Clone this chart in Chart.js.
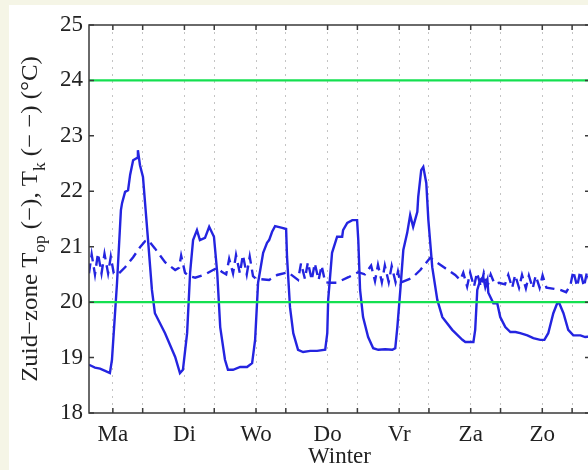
<!DOCTYPE html>
<html>
<head>
<meta charset="utf-8">
<title>Zuid-zone winter</title>
<script src="https://cdn.jsdelivr.net/npm/chart.js@4.4.1/dist/chart.umd.min.js"></script>
<style>
  html, body { margin: 0; padding: 0; overflow: hidden; background: #fff; }
  #wrap { width: 588px; height: 470px; overflow: hidden; position: relative; }
  #chart { position: absolute; left: 0; top: 0; }
</style>
</head>
<body>
<div id="wrap"><canvas id="chart" width="600" height="470"></canvas></div>
<script>
// x axis in hours from Monday 00:00, one week
const dayLabels = ['Ma', 'Di', 'Wo', 'Do', 'Vr', 'Za', 'Zo'];
const dayTickHours = [8, 32, 56, 80, 104, 128, 152];
const gridHours = [8, 18, 32, 42, 56, 66, 80, 90, 104, 114, 128, 138, 152, 162];
const yTicks = [18, 19, 20, 21, 22, 23, 24, 25];

// comfort band limits (green lines)
const weekHours = [0, 168];
const comfortHigh = 24;
const comfortLow = 20;

// operative temperature T_op (solid)
const topHours = [0, 2.0, 3.7, 5.4, 7.0, 7.7, 9.4, 10.7, 11.1, 12.1,
  13.1, 13.8, 14.8, 16.1, 16.4, 17.1, 18.1, 19.8, 21.1, 22.1,
  25.5, 28.9, 30.5, 31.5, 32.9, 33.9, 34.9, 36.2, 37.2, 38.9,
  40.3, 41.9, 43.0, 44.0, 45.6, 46.6, 48.3, 50.7, 53.0, 54.7,
  55.7, 56.7, 58.4, 59.7, 60.4, 61.4, 62.4, 64.8, 66.1, 66.4,
  67.4, 68.5, 70.1, 71.8, 74.2, 76.5, 79.2, 79.9, 80.2, 81.5,
  83.2, 84.9, 85.2, 86.6, 88.3, 89.9, 90.3, 90.9, 91.9, 93.6,
  95.3, 97.0, 99.3, 101.7, 102.7, 103.4, 104.4, 105.4, 106.7, 107.7,
  108.7, 110.1, 110.4, 111.4, 112.1, 113.1, 113.8, 115.1, 116.8, 118.5,
  121.8, 125.2, 126.2, 128.9, 129.5, 130.2, 131.2, 132.2, 132.9, 133.6,
  133.9, 135.6, 136.9, 137.9, 139.6, 141.3, 143.0, 144.6, 147.0, 149.0,
  151.3, 152.7, 154.0, 155.7, 157.0, 157.7, 159.1, 160.7, 162.4, 164.8,
  166.4, 168];
const topValues = [18.87, 18.82, 18.80, 18.76, 18.72, 18.96, 20.35, 21.66, 21.79, 21.99,
  22.02, 22.30, 22.56, 22.60, 22.74, 22.47, 22.26, 21.12, 20.22, 19.80,
  19.44, 19.01, 18.72, 18.78, 19.44, 20.53, 21.12, 21.30, 21.12, 21.16,
  21.36, 21.18, 20.53, 19.55, 18.96, 18.78, 18.78, 18.83, 18.83, 18.90,
  19.32, 20.35, 20.89, 21.07, 21.12, 21.27, 21.37, 21.34, 21.32, 20.82,
  19.91, 19.44, 19.14, 19.10, 19.12, 19.12, 19.14, 19.44, 20.04, 20.89,
  21.18, 21.18, 21.30, 21.43, 21.48, 21.48, 21.12, 20.22, 19.73, 19.37,
  19.17, 19.14, 19.15, 19.14, 19.17, 19.55, 20.22, 20.94, 21.25, 21.57,
  21.36, 21.63, 21.90, 22.38, 22.44, 22.15, 21.48, 20.63, 20.04, 19.73,
  19.50, 19.32, 19.28, 19.28, 19.50, 20.22, 20.40, 20.45, 20.27, 20.40,
  20.17, 19.98, 19.98, 19.73, 19.55, 19.46, 19.46, 19.44, 19.40, 19.35,
  19.32, 19.32, 19.44, 19.80, 19.98, 19.98, 19.80, 19.50, 19.40, 19.40,
  19.37, 19.38];

// T_k (dashed)
const tkHours = [0, 0.9, 2.0, 3.0, 4.2, 5.2, 6.4, 7.3, 8.3,
  9.7, 12.1, 14.8, 17.1, 18.8, 19.8, 22.1, 25.5, 28.9, 30.2, 30.9, 32.2, 33.5, 35.6, 38.9, 41.6, 43.0, 44.5,
  46.0, 47.0, 48.3, 49.3, 50.6, 51.6, 52.9, 53.9, 55.0,
  56.0, 60.4, 63.1, 66.7,
  70.1, 71.1, 72.4, 73.4, 74.7, 75.7, 77.0, 78.0, 79.2,
  80.5, 83.0, 87.0, 90.3, 92.5,
  94.6, 95.9, 96.9, 98.2, 99.2, 100.5, 101.5, 102.8, 103.6, 104.4,
  108.4, 111.1, 114.4, 119.5, 122.8,
  124.5, 125.5, 126.8, 127.8, 129.1, 130.1, 131.4, 132.4, 133.7, 134.7, 136.0,
  137.5, 139.5,
  140.6, 141.9, 142.9, 144.2, 145.2, 146.5, 147.5, 148.8, 149.8, 151.1, 152.1, 153.4,
  156.0, 158.0, 160.0,
  161.4, 162.4, 163.7, 164.7, 166.0, 167.0, 168.0];
const tkValues = [20.52, 20.86, 20.50, 20.88, 20.52, 20.87, 20.52, 20.82, 20.52,
  20.50, 20.63, 20.81, 20.99, 21.10, 21.12, 20.97, 20.72, 20.58, 20.62, 20.84, 20.53, 20.47, 20.44, 20.50, 20.58, 20.62, 20.55,
  20.50, 20.78, 20.52, 20.85, 20.52, 20.85, 20.50, 20.82, 20.47,
  20.42, 20.40, 20.49, 20.54,
  20.40, 20.70, 20.42, 20.72, 20.40, 20.70, 20.40, 20.66, 20.36,
  20.35, 20.35, 20.45, 20.54, 20.50,
  20.66, 20.38, 20.67, 20.36, 20.66, 20.36, 20.65, 20.36, 20.55, 20.35,
  20.44, 20.58, 20.80, 20.61, 20.49,
  20.40, 20.53, 20.28, 20.53, 20.28, 20.53, 20.28, 20.53, 20.30, 20.50, 20.33,
  20.35, 20.32,
  20.49, 20.26, 20.49, 20.26, 20.49, 20.25, 20.48, 20.25, 20.48, 20.26, 20.48, 20.26,
  20.24, 20.22, 20.18,
  20.30, 20.56, 20.28, 20.56, 20.28, 20.55, 20.35];

const blue = '#2424e0';
const green = '#14e050';
const textColor = '#222222';
const serif = '"Liberation Serif", "Times New Roman", serif';

function toPoints(xs, ys) {
  return xs.map((h, i) => ({ x: h, y: ys[i] }));
}

const backgroundPlugin = {
  id: 'paper',
  beforeDraw(chart) {
    const ctx = chart.ctx;
    ctx.save();
    ctx.fillStyle = '#f5f5e6';
    ctx.fillRect(0, 0, chart.width, chart.height);
    ctx.fillStyle = '#ffffff';
    ctx.fillRect(9, 5, chart.width, chart.height);
    ctx.restore();
  }
};

// box around the axes plus inward tick marks (matlab style)
const framePlugin = {
  id: 'frame',
  afterDatasetsDraw(chart) {
    const { ctx, chartArea: a, scales } = chart;
    ctx.save();
    ctx.strokeStyle = '#3a3a3a';
    ctx.lineWidth = 1.5;
    ctx.strokeRect(a.left, a.top, a.right - a.left, a.bottom - a.top);
    ctx.beginPath();
    yTicks.forEach(v => {
      const py = scales.y.getPixelForValue(v);
      ctx.moveTo(a.left, py); ctx.lineTo(a.left + 5, py);
      ctx.moveTo(a.right, py); ctx.lineTo(a.right - 5, py);
    });
    gridHours.forEach(h => {
      const px = scales.x.getPixelForValue(h);
      ctx.moveTo(px, a.top); ctx.lineTo(px, a.top + 5);
      ctx.moveTo(px, a.bottom); ctx.lineTo(px, a.bottom - 5);
    });
    ctx.stroke();
    ctx.restore();
  }
};

// axis titles, the y one needs subscripts
const titlesPlugin = {
  id: 'titles',
  afterDraw(chart) {
    const { ctx, chartArea: a } = chart;
    ctx.save();
    ctx.fillStyle = textColor;
    ctx.font = '23px ' + serif;
    ctx.textAlign = 'center';
    ctx.textBaseline = 'alphabetic';
    ctx.fillText('Winter', (a.left + a.right) / 2, 463);

    const parts = [
      ['Zuid\u2212zone T', false],
      ['op', true],
      [' (\u2212), T', false],
      ['k', true],
      [' (\u2212 \u2212) (\u00B0C)', false]
    ];
    const mainFont = '23px ' + serif;
    const subFont = '16px ' + serif;
    let total = 0;
    parts.forEach(([t, sub]) => {
      ctx.font = sub ? subFont : mainFont;
      total += ctx.measureText(t).width;
    });
    const stretch = 1.08;
    ctx.translate(37, (a.top + a.bottom) / 2);
    ctx.rotate(-Math.PI / 2);
    ctx.scale(stretch, 1);
    ctx.textAlign = 'left';
    let cx = -total / 2;
    parts.forEach(([t, sub]) => {
      ctx.font = sub ? subFont : mainFont;
      ctx.fillText(t, cx, sub ? 8 : 0);
      cx += ctx.measureText(t).width;
    });
    ctx.restore();
  }
};

new Chart(document.getElementById('chart'), {
  type: 'line',
  data: {
    datasets: [
      { data: toPoints(weekHours, [comfortHigh, comfortHigh]), borderColor: green, borderWidth: 2.2, pointRadius: 0 },
      { data: toPoints(weekHours, [comfortLow, comfortLow]), borderColor: green, borderWidth: 2.2, pointRadius: 0 },
      { data: toPoints(topHours, topValues), borderColor: blue, borderWidth: 2.4, pointRadius: 0, tension: 0 },
      { data: toPoints(tkHours, tkValues), borderColor: blue, borderWidth: 2.4, pointRadius: 0, tension: 0, borderDash: [10, 6] }
    ]
  },
  options: {
    responsive: false,
    animation: false,
    devicePixelRatio: 1,
    layout: { padding: { left: 0, top: 25, right: 10, bottom: 0 } },
    plugins: { legend: { display: false }, tooltip: { enabled: false } },
    scales: {
      x: {
        type: 'linear',
        min: 0,
        max: 168,
        afterBuildTicks: s => { s.ticks = gridHours.map(v => ({ value: v })); },
        afterFit: s => { s.height = 57; },
        grid: { color: '#c4c4c4', lineWidth: 1, drawTicks: false },
        border: { display: false, dash: [2, 5] },
        ticks: {
          autoSkip: false,
          maxRotation: 0,
          padding: 8,
          color: textColor,
          font: { family: serif, size: 23 },
          callback: v => {
            const i = dayTickHours.indexOf(v);
            return i >= 0 ? dayLabels[i] : '';
          }
        }
      },
      y: {
        min: 18,
        max: 25,
        afterBuildTicks: s => { s.ticks = yTicks.map(v => ({ value: v })); },
        afterFit: s => { s.width = 89; },
        grid: { display: false, drawTicks: false },
        border: { display: false },
        ticks: {
          padding: 6,
          color: textColor,
          font: { family: serif, size: 23 }
        }
      }
    }
  },
  plugins: [backgroundPlugin, framePlugin, titlesPlugin]
});
</script>
</body>
</html>
